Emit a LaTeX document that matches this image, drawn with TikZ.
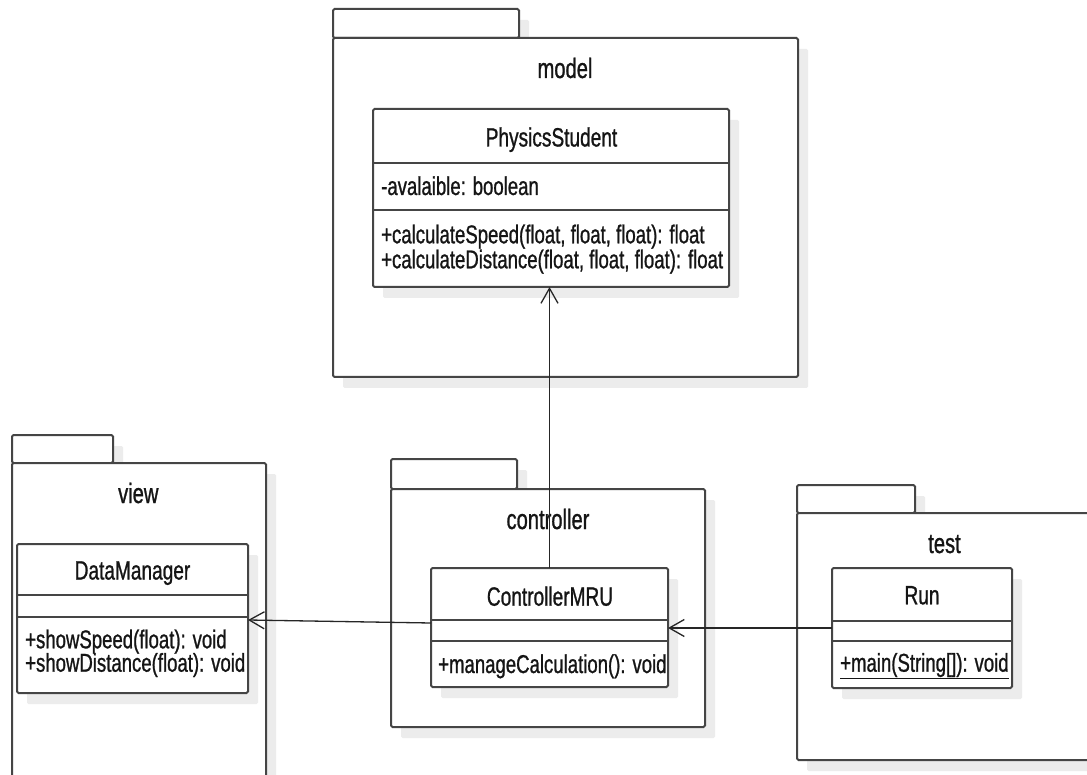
\documentclass[tikz,border=0pt]{standalone}
\usepackage{fontspec}
\setmainfont{Liberation Sans}[FakeStretch=0.72, FakeBold=0.9]
\usetikzlibrary{arrows.meta,shadows}

\definecolor{linec}{HTML}{454545}
\definecolor{textc}{HTML}{151515}
\definecolor{shadowc}{HTML}{ECECEC}

\begin{document}
\begin{tikzpicture}[x=1pt,y=-1pt,
  frame/.style={draw=linec, line width=2pt, fill=white, rounded corners=1.5pt,
    inner sep=0pt, outer sep=0pt, anchor=north west,
    drop shadow={shadow xshift=10pt, shadow yshift=-11pt, fill=shadowc, opacity=1}},
  pkgname/.style={anchor=base, inner sep=0pt, text=textc, font=\fontsize{28}{30}\selectfont},
  clsname/.style={anchor=base, inner sep=0pt, text=textc, font=\fontsize{26.5}{28}\selectfont},
  member/.style={anchor=base west, inner sep=0pt, text=textc, font=\fontsize{25.8}{27}\selectfont},
  sep/.style={draw=linec, line width=2pt},
  dep/.style={draw=black!85, line width=1.3pt,
    -{Straight Barb[length=15pt, width=17pt, line width=1.3pt]}}
]
\clip (0,0) rectangle (1087,775);
\fill[white] (0,0) rectangle (1087,775);

% ---------- package: model ----------
\node[frame, minimum width=186pt, minimum height=29pt] (modeltab) at (333,9) {};
\node[frame, minimum width=465pt, minimum height=339pt] (model) at (333,38) {};
\node[pkgname] (modellbl) at (565,78) {model};

\node[frame, minimum width=356pt, minimum height=178pt] (ps) at (373,109) {};
\draw[sep] (ps.west |- 0,163) -- (ps.east |- 0,163);
\draw[sep] (ps.west |- 0,210) -- (ps.east |- 0,210);
\node[clsname] (psname) at (551.5,146.5) {PhysicsStudent};
\node[member] (psattr) at (381,195) {-avalaible: boolean};
\node[member] (psm1) at (381,243.3) {+calculateSpeed(float, float, float): float};
\node[member] (psm2) at (381,268.3) {+calculateDistance(float, float, float): float};

% ---------- package: view ----------
\node[frame, minimum width=101pt, minimum height=28pt] (viewtab) at (12,435) {};
\node[frame, minimum width=254pt, minimum height=360pt] (view) at (12,463) {};
\node[pkgname] (viewlbl) at (138.3,503) {view};

\node[frame, minimum width=231pt, minimum height=149pt] (dm) at (17,544) {};
\draw[sep] (dm.west |- 0,595) -- (dm.east |- 0,595);
\draw[sep] (dm.west |- 0,617) -- (dm.east |- 0,617);
\node[clsname] (dmname) at (132.5,579.5) {DataManager};
\node[member] (dmm1) at (25,648.3) {+showSpeed(float): void};
\node[member] (dmm2) at (25,671.7) {+showDistance(float): void};

% ---------- package: controller ----------
\node[frame, minimum width=126pt, minimum height=30pt] (ctltab) at (391,459) {};
\node[frame, minimum width=314pt, minimum height=238pt] (ctl) at (391,489) {};
\node[pkgname] (ctllbl) at (548,529) {controller};

\node[frame, minimum width=237pt, minimum height=119pt] (cm) at (431,568) {};
\draw[sep] (cm.west |- 0,620) -- (cm.east |- 0,620);
\draw[sep] (cm.west |- 0,641) -- (cm.east |- 0,641);
\node[clsname] (cmname) at (550,605.7) {ControllerMRU};
\node[member] (cmm1) at (438,673) {+manageCalculation(): void};

% ---------- package: test ----------
\node[frame, minimum width=118pt, minimum height=28pt] (testtab) at (797,485) {};
\node[frame, minimum width=330pt, minimum height=247pt] (test) at (797,513) {};
\node[pkgname] (testlbl) at (944.5,553) {test};

\node[frame, minimum width=180pt, minimum height=120pt] (run) at (832,568) {};
\draw[sep] (run.west |- 0,621) -- (run.east |- 0,621);
\draw[sep] (run.west |- 0,641) -- (run.east |- 0,641);
\node[clsname] (runname) at (922,604.3) {Run};
\node[member] (runm1) at (840,671.7) {\underline{+main(String[]): void}};

% ---------- dependencies ----------
\draw[dep] (cm.north) -- (cm.north |- ps.south);
\draw[dep] ([yshift=4.5pt]cm.west) -- ([yshift=-1.5pt]dm.east);
\draw[dep] (run.west) -- (cm.east |- run.west);
\end{tikzpicture}
\end{document}
